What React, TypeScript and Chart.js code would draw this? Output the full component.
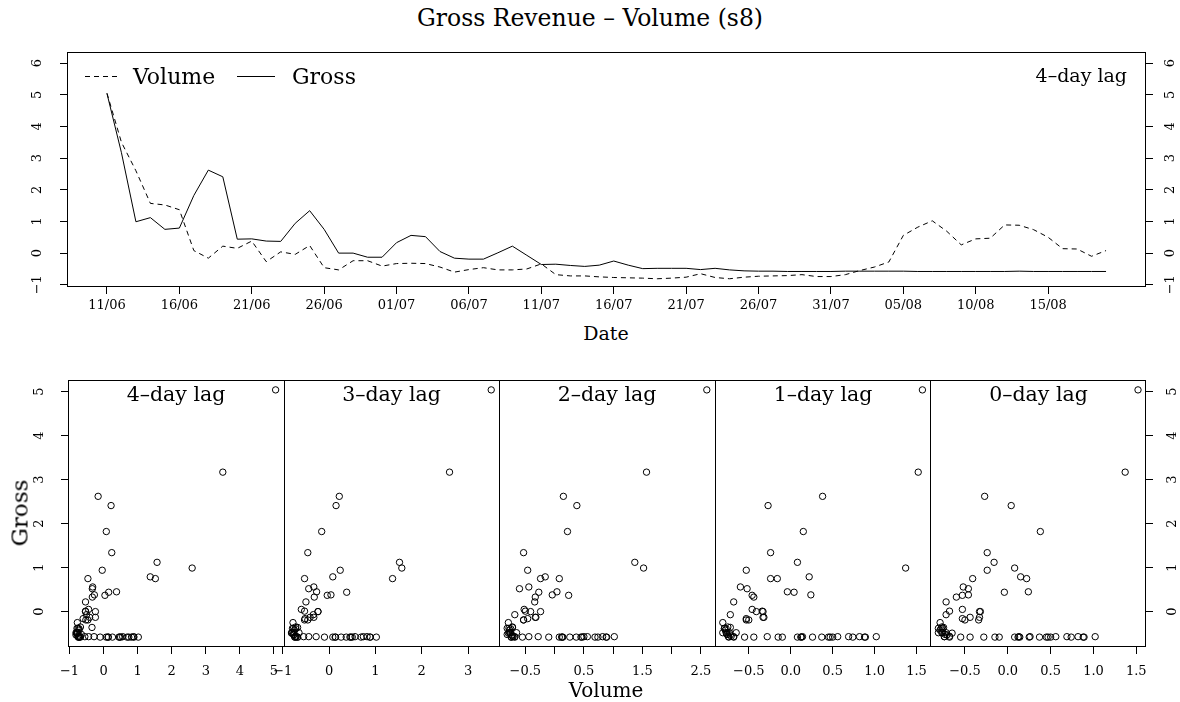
import React, { useEffect, useRef } from 'react';
import { Chart, registerables } from 'chart.js';

Chart.register(...registerables);

// ---------------- data ----------------
// Gross revenue (standardised), one value per day 11/06 .. 19/08
const gross = [
  5.04, 3.17, 0.99, 1.12, 0.75, 0.79, 1.82, 2.62, 2.41, 0.44,
  0.45, 0.38, 0.37, 0.94, 1.34, 0.75, 0.0, 0.0, -0.13, -0.13,
  0.33, 0.56, 0.52, 0.05, -0.16, -0.19, -0.19, 0.01, 0.22, -0.07,
  -0.36, -0.35, -0.39, -0.42, -0.38, -0.25, -0.38, -0.49, -0.48, -0.48,
  -0.48, -0.52, -0.48, -0.53, -0.56, -0.57, -0.57, -0.58, -0.58, -0.58,
  -0.58, -0.57, -0.57, -0.57, -0.57, -0.57, -0.58, -0.58, -0.58, -0.58,
  -0.58, -0.58, -0.58, -0.57, -0.58, -0.58, -0.58, -0.58, -0.58, -0.58,
];

// Volume (standardised), starting 4 days before the first Gross day (07/06 .. 19/08)
const volume = [
  5.05, 3.5, 2.6, 1.57, 1.52, 1.37, 0.08, -0.16, 0.22, 0.15,
  0.38, -0.27, 0.04, -0.04, 0.24, -0.46, -0.53, -0.24, -0.24, -0.41,
  -0.33, -0.32, -0.33, -0.44, -0.6, -0.52, -0.46, -0.53, -0.53, -0.5,
  -0.34, -0.68, -0.72, -0.72, -0.75, -0.77, -0.78, -0.79, -0.81, -0.79,
  -0.76, -0.65, -0.77, -0.81, -0.76, -0.73, -0.72, -0.71, -0.68, -0.74,
  -0.74, -0.68, -0.55, -0.44, -0.28, 0.56, 0.82, 1.02, 0.69, 0.26,
  0.45, 0.47, 0.89, 0.88, 0.74, 0.5, 0.14, 0.13, -0.1, 0.08,
  0.37, 0.12, -0.15, 0.25,
];

const lags = [4, 3, 2, 1, 0];
const lagTitles = ['4–day lag', '3–day lag', '2–day lag', '1–day lag', '0–day lag'];
const topLag = 4;

const dateTickDays = [0, 5, 10, 15, 20, 25, 30, 35, 40, 45, 50, 55, 60, 65];
const dateTickLabels = ['11/06', '16/06', '21/06', '26/06', '01/07', '06/07', '11/07',
  '16/07', '21/07', '26/07', '31/07', '05/08', '10/08', '15/08'];

const topYTicks = [-1, 0, 1, 2, 3, 4, 5, 6];
const topYTickLabels = ['−1', '0', '1', '2', '3', '4', '5', '6'];
const scatterYTicks = [0, 1, 2, 3, 4, 5];
const scatterYTickLabels = ['0', '1', '2', '3', '4', '5'];

const lagXTicks = [
  [-1, 0, 1, 2, 3, 4, 5],
  [-1, 0, 1, 2, 3],
  [-0.5, 0, 0.5, 1, 1.5, 2, 2.5],
  [-0.5, 0, 0.5, 1, 1.5],
  [-0.5, 0, 0.5, 1, 1.5],
];
const lagXTickLabels = [
  ['−1', '0', '1', '2', '3', '4', '5'],
  ['−1', '0', '1', '2', '3'],
  ['−0.5', '', '0.5', '', '1.5', '', '2.5'],
  ['−0.5', '0.0', '0.5', '1.0', '1.5'],
  ['−0.5', '0.0', '0.5', '1.0', '1.5'],
];

// ---------------- helpers ----------------
const SERIF = '"DejaVu Serif", serif';

function padRange(vals: number[]) {
  const lo = Math.min(...vals);
  const hi = Math.max(...vals);
  const d = (hi - lo) * 0.04;
  return { min: lo - d, max: hi + d };
}

const boxPlugin = {
  id: 'rbox',
  afterDatasetsDraw(chart: any) {
    const { ctx, chartArea: a } = chart;
    ctx.save();
    ctx.strokeStyle = '#000';
    ctx.lineWidth = 1;
    const l = Math.round(a.left) + 0.5;
    const t = Math.round(a.top) + 0.5;
    const r = Math.round(a.right) - 0.5;
    const b = Math.round(a.bottom) - 0.5;
    ctx.strokeRect(l, t, r - l, b - t);
    const seps: string[] = (chart.options.plugins as any).rbox?.separators || [];
    seps.forEach((id) => {
      const s = chart.scales[id];
      if (!s) return;
      const x = Math.round(s.left) + 0.5;
      ctx.beginPath();
      ctx.moveTo(x, t);
      ctx.lineTo(x, b);
      ctx.stroke();
    });
    ctx.restore();
  },
};

const tickGrid = { drawOnChartArea: false, drawTicks: true, tickLength: 7, color: '#000', lineWidth: 1 };

function zeroPad(s: any) {
  s.paddingTop = 0;
  s.paddingBottom = 0;
  s.paddingLeft = 0;
  s.paddingRight = 0;
}

function yAxis(position: 'left' | 'right', min: number, max: number, ticks: number[], labels: string[], width: number, pad: number) {
  return {
    type: 'linear',
    position,
    min,
    max,
    bounds: 'data',
    afterBuildTicks: (s: any) => { s.ticks = ticks.map((v) => ({ value: v })); },
    afterFit: (s: any) => { s.width = width; zeroPad(s); },
    grid: tickGrid,
    border: { display: false },
    ticks: {
      autoSkip: false,
      minRotation: 90,
      maxRotation: 90,
      crossAlign: 'center',
      padding: pad,
      color: '#000',
      font: { family: SERIF, size: 13 },
      callback: (_v: any, i: number) => labels[i],
    },
  };
}

// ---------------- components ----------------
function TopChart() {
  const ref = useRef<HTMLCanvasElement>(null);
  useEffect(() => {
    const ctx = ref.current!;
    const days = gross.map((_, i) => i);
    const volShown = days.map((i) => ({ x: i, y: volume[i + 4 - topLag] }));
    const grossShown = days.map((i) => ({ x: i, y: gross[i] }));
    const xr = padRange(days);
    const chart = new Chart(ctx, {
      type: 'line',
      data: {
        datasets: [
          { label: 'Volume', data: volShown, borderColor: '#000', borderWidth: 1, borderDash: [5, 4], pointRadius: 0, tension: 0, fill: false },
          { label: 'Gross', data: grossShown, borderColor: '#000', borderWidth: 1, pointRadius: 0, tension: 0, fill: false },
        ],
      },
      options: {
        responsive: false,
        animation: false,
        devicePixelRatio: 1,
        layout: { padding: { top: 12, left: 0, right: 0, bottom: 0 } },
        plugins: { legend: { display: false }, tooltip: { enabled: false }, rbox: {} } as any,
        scales: {
          x: {
            type: 'linear',
            position: 'bottom',
            min: xr.min,
            max: xr.max,
            bounds: 'data',
            afterBuildTicks: (s: any) => { s.ticks = dateTickDays.map((v) => ({ value: v })); },
            afterFit: (s: any) => { s.height = 23; zeroPad(s); },
            grid: tickGrid,
            border: { display: false },
            ticks: {
              autoSkip: false, maxRotation: 0, padding: 4, color: '#000',
              font: { family: SERIF, size: 13 },
              callback: (_v: any, i: number) => dateTickLabels[i],
            },
          },
          y: yAxis('left', -1.07, 6.35, topYTicks, topYTickLabels, 67, 13),
          y2: yAxis('right', -1.07, 6.35, topYTicks, topYTickLabels, 34, 8),
        } as any,
      },
      plugins: [boxPlugin],
    });
    return () => chart.destroy();
  }, []);
  return <canvas ref={ref} width={1180} height={270} style={{ position: 'absolute', left: 0, top: 40 }} />;
}

function LagChart() {
  const ref = useRef<HTMLCanvasElement>(null);
  useEffect(() => {
    const ctx = ref.current!;
    const yr = padRange(gross);
    const scales: any = {};
    const datasets: any[] = [];
    lags.forEach((k, p) => {
      const xs = gross.map((_, i) => volume[i + 4 - k]);
      const xr = padRange(xs);
      datasets.push({
        label: lagTitles[p],
        data: gross.map((g, i) => ({ x: xs[i], y: g })),
        xAxisID: 'x' + p,
        yAxisID: 'y',
        showLine: false,
        pointStyle: 'circle',
        pointRadius: 3.2,
        pointBorderWidth: 1,
        borderColor: '#000',
        backgroundColor: 'rgba(0,0,0,0)',
        pointBackgroundColor: 'rgba(0,0,0,0)',
      });
      scales['x' + p] = {
        type: 'linear',
        position: 'bottom',
        stack: 'lags',
        stackWeight: 1,
        min: xr.min,
        max: xr.max,
        bounds: 'data',
        afterBuildTicks: (s: any) => { s.ticks = lagXTicks[p].map((v) => ({ value: v })); },
        afterFit: (s: any) => { s.height = 55; zeroPad(s); },
        grid: tickGrid,
        border: { display: false },
        ticks: {
          autoSkip: false, maxRotation: 0, padding: 10, color: '#000',
          font: { family: SERIF, size: 13 },
          callback: (_v: any, i: number) => lagXTickLabels[p][i],
        },
      };
    });
    scales.y = yAxis('left', yr.min, yr.max, scatterYTicks, scatterYTickLabels, 68, 17);
    scales.y2 = yAxis('right', yr.min, yr.max, scatterYTicks, scatterYTickLabels, 34, 15);
    const chart = new Chart(ctx, {
      type: 'scatter',
      data: { datasets },
      options: {
        responsive: false,
        animation: false,
        devicePixelRatio: 1,
        layout: { padding: { top: 10, left: 0, right: 0, bottom: 0 } },
        plugins: { legend: { display: false }, tooltip: { enabled: false }, rbox: { separators: ['x1', 'x2', 'x3', 'x4'] } } as any,
        scales,
      },
      plugins: [boxPlugin],
    });
    return () => chart.destroy();
  }, []);
  return <canvas ref={ref} width={1180} height={332} style={{ position: 'absolute', left: 0, top: 370 }} />;
}

function Txt({ x, y, size, children, anchor = 'center', rotate = 0 }: any) {
  const tx = anchor === 'center' ? '-50%' : anchor === 'right' ? '-100%' : '0';
  return (
    <div
      style={{
        position: 'absolute', left: x, top: y, fontFamily: SERIF, fontSize: size, lineHeight: 1,
        whiteSpace: 'nowrap', color: '#000',
        transform: `translate(${tx}, -50%) rotate(${rotate}deg)`,
      }}
    >
      {children}
    </div>
  );
}

export default function App() {
  const panelCenters = [176, 391.5, 607, 823, 1038.5];
  return (
    <div style={{ position: 'fixed', left: 0, top: 0, width: 1180, height: 702, background: '#fff', overflow: 'hidden' }}>
      <Txt x={590} y={19} size={23.5}>Gross Revenue – Volume (s8)</Txt>
      <TopChart />
      <LagChart />
      {/* legend */}
      <svg style={{ position: 'absolute', left: 0, top: 0 }} width={1180} height={100}>
        <line x1={85} y1={76.5} x2={121} y2={76.5} stroke="#000" strokeWidth={1} strokeDasharray="5 4" />
        <line x1={237} y1={76.5} x2={275} y2={76.5} stroke="#000" strokeWidth={1} />
      </svg>
      <Txt x={133} y={77} size={22} anchor="left">Volume</Txt>
      <Txt x={292} y={77} size={22} anchor="left">Gross</Txt>
      <Txt x={1127} y={75} size={19} anchor="right">4–day lag</Txt>
      <Txt x={606} y={333} size={19}>Date</Txt>
      {lagTitles.map((t, i) => (
        <Txt key={t} x={panelCenters[i]} y={394} size={20.5}>{t}</Txt>
      ))}
      <Txt x={606} y={690} size={20}>Volume</Txt>
      <Txt x={20} y={513} size={23} rotate={-90}>Gross</Txt>
    </div>
  );
}
